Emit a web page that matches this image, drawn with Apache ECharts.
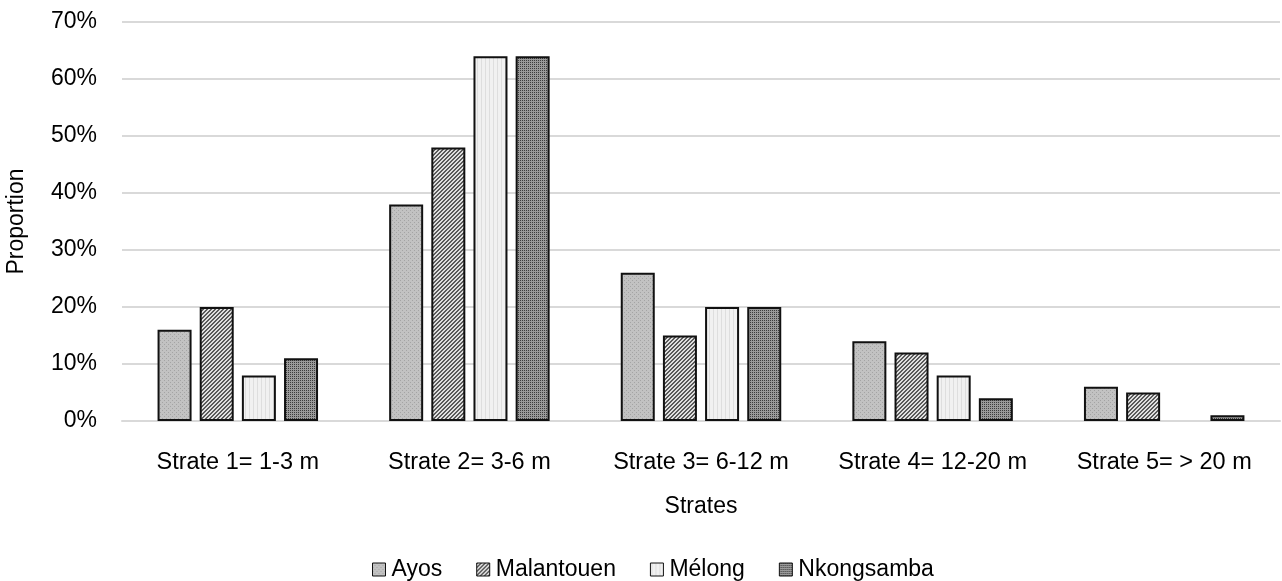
<!DOCTYPE html>
<html>
<head>
<meta charset="utf-8">
<script src="https://cdn.jsdelivr.net/npm/echarts@6/dist/echarts.min.js"></script>
<style>
  html, body { margin: 0; padding: 0; background: #fff; }
  #chart { width: 1282px; height: 581px; }
</style>
</head>
<body>
<div id="chart"></div>
<script>
let categories = ['Strate 1= 1-3 m', 'Strate 2= 3-6 m', 'Strate 3= 6-12 m', 'Strate 4= 12-20 m', 'Strate 5= > 20 m']
let seriesNames = ['Ayos', 'Malantouen', 'Mélong', 'Nkongsamba']
let ayos = [16, 38, 26, 14, 6]
let malantouen = [20, 48, 15, 12, 5]
let melong = [8, 64, 20, 8, 0]
let nkongsamba = [11, 64, 20, 4, 1]
let yTicks = [0, 10, 20, 30, 40, 50, 60, 70]

let myChart = echarts.init(document.getElementById('chart'), null, { renderer: 'canvas' })

// petits motifs de remplissage
function makePattern(kind) {
  let c = document.createElement('canvas')
  c.width = 4
  c.height = 4
  let ctx = c.getContext('2d')
  if (kind == 'dots') {
    ctx.fillStyle = '#c2c2c2'
    ctx.fillRect(0, 0, 4, 4)
    ctx.fillStyle = '#a4a4a4'
    ctx.fillRect(0, 0, 1, 1)
    ctx.fillRect(2, 2, 1, 1)
  } else if (kind == 'diag') {
    ctx.fillStyle = '#e0e0e0'
    ctx.fillRect(0, 0, 4, 4)
    ctx.fillStyle = '#5a5a5a'
    for (let i = 0; i < 4; i++) {
      ctx.fillRect(i, 3 - i, 1, 1)
      ctx.fillRect((i + 1) % 4, 3 - i, 1, 1)
    }
  } else if (kind == 'light') {
    ctx.fillStyle = '#f1f1f1'
    ctx.fillRect(0, 0, 4, 4)
    ctx.fillStyle = '#dedede'
    ctx.fillRect(1, 0, 1, 4)
  } else {
    ctx.fillStyle = '#9a9a9a'
    ctx.fillRect(0, 0, 4, 4)
    ctx.fillStyle = '#3c3c3c'
    ctx.fillRect(0, 0, 1, 1)
    ctx.fillRect(2, 2, 1, 1)
    ctx.fillRect(2, 0, 1, 1)
    ctx.fillRect(0, 2, 1, 1)
  }
  return { image: c, repeat: 'repeat' }
}

let fills = [makePattern('dots'), makePattern('diag'), makePattern('light'), makePattern('check')]
let dataSets = [ayos, malantouen, melong, nkongsamba]

let series = seriesNames.map((name, i) => {
  return {
    name: name,
    type: 'bar',
    barWidth: 34,
    barGap: '24%',
    // une valeur nulle ne dessine pas de bordure
    data: dataSets[i].map(v => v === 0 ? { value: 0, itemStyle: { borderWidth: 0 } } : v),
    itemStyle: {
      color: fills[i],
      borderColor: '#111',
      borderWidth: 2
    }
  }
})

let option = {
  animation: false,
  textStyle: { fontFamily: 'Liberation Sans, Arial, sans-serif' },
  grid: { left: 122, right: 2, top: 22, bottom: 160, outerBoundsMode: 'none' },
  legend: {
    data: seriesNames.map((n, i) => ({ name: n, itemStyle: { color: fills[i], borderColor: '#111', borderWidth: 1 } })),
    top: 553,
    left: 367,
    itemWidth: 13,
    itemHeight: 13,
    itemGap: 34,
    icon: 'rect',
    textStyle: { fontSize: 23, color: '#000', padding: [0, 0, 0, 1] }
  },
  xAxis: {
    type: 'category',
    data: categories,
    name: 'Strates',
    nameLocation: 'middle',
    nameGap: 74,
    nameTextStyle: { fontSize: 23, color: '#000' },
    axisLine: { lineStyle: { color: '#d9d9d9', width: 2 } },
    axisTick: { show: false },
    axisLabel: { fontSize: 23.5, color: '#000', margin: 30, interval: 0 }
  },
  yAxis: {
    type: 'value',
    min: yTicks[0],
    max: yTicks[yTicks.length - 1],
    interval: 10,
    name: 'Proportion',
    nameLocation: 'middle',
    nameGap: 94,
    nameTextStyle: { fontSize: 23, color: '#000' },
    axisLine: { show: false },
    axisTick: { show: false },
    axisLabel: { fontSize: 23, color: '#000', margin: 25, formatter: '{value}%' },
    splitLine: { lineStyle: { color: '#d9d9d9', width: 2 } }
  },
  series: series
}
myChart.setOption(option)
</script>
</body>
</html>
